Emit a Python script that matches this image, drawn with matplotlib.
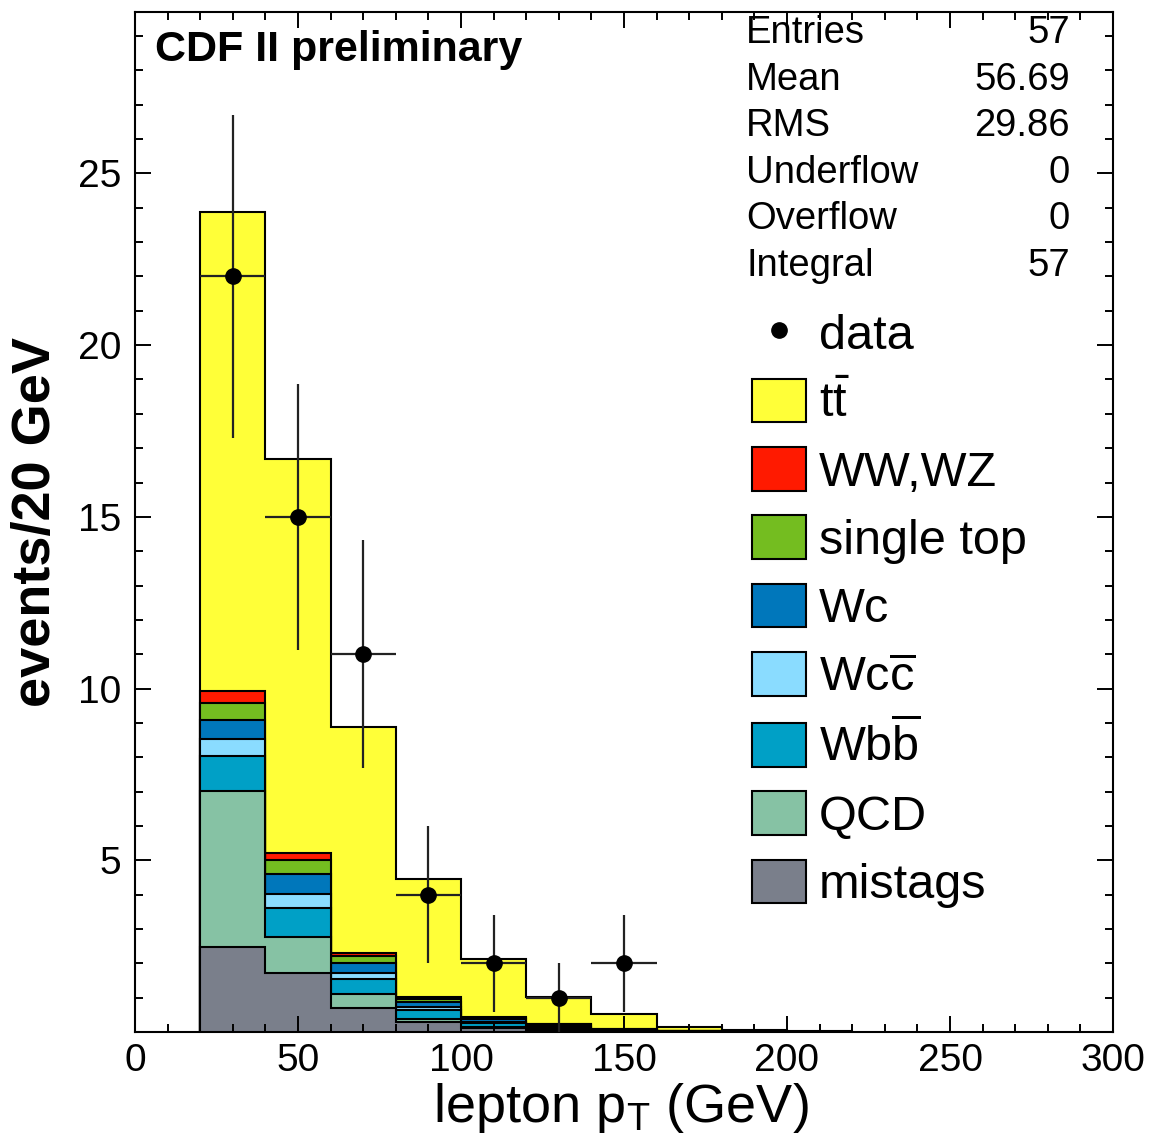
import matplotlib

matplotlib.use("Agg")
import matplotlib.pyplot as plt
import numpy as np
from matplotlib.lines import Line2D
from matplotlib.patches import Patch
from matplotlib.ticker import MultipleLocator

plt.rcParams["font.family"] = ["Liberation Sans", "DejaVu Sans"]
plt.rcParams["mathtext.fontset"] = "custom"
plt.rcParams["mathtext.rm"] = "Liberation Sans"
plt.rcParams["mathtext.it"] = "Liberation Sans:italic"
plt.rcParams["mathtext.bf"] = "Liberation Sans:bold"

# bin edges (GeV), 20 GeV bins
edges = [20, 40, 60, 80, 100, 120, 140, 160, 180, 200, 220]

# backgrounds, bottom of the stack first
mistags = [2.47, 1.71, 0.69, 0.30, 0.12, 0.05, 0.02, 0.01, 0.0, 0.0]
qcd = [4.56, 1.07, 0.42, 0.08, 0.04, 0.02, 0.01, 0.0, 0.0, 0.0]
wbb = [1.00, 0.84, 0.43, 0.26, 0.10, 0.06, 0.02, 0.01, 0.0, 0.0]
wcc = [0.49, 0.41, 0.19, 0.10, 0.04, 0.02, 0.01, 0.0, 0.0, 0.0]
wc = [0.56, 0.56, 0.27, 0.14, 0.07, 0.04, 0.01, 0.0, 0.0, 0.0]
single_top = [0.51, 0.41, 0.20, 0.07, 0.05, 0.03, 0.01, 0.0, 0.0, 0.0]
ww_wz = [0.33, 0.21, 0.09, 0.08, 0.03, 0.01, 0.01, 0.0, 0.0, 0.0]
ttbar = [13.96, 11.47, 6.60, 3.43, 1.67, 0.80, 0.43, 0.13, 0.06, 0.02]

data_x = [30, 50, 70, 90, 110, 130, 150]
data_y = [22, 15, 11, 4, 2, 1, 2]

stat_names = ["Entries", "Mean", "RMS", "Underflow", "Overflow", "Integral"]
stat_values = ["57", "56.69", "29.86", "0", "0", "57"]

stack = [
    ("mistags", mistags, "#7a7f8b"),
    ("QCD", qcd, "#86c2a4"),
    (r"Wb$\overline{\rm b}$", wbb, "#00a0c6"),
    (r"Wc$\overline{\rm c}$", wcc, "#8adcff"),
    ("Wc", wc, "#0077bb"),
    ("single top", single_top, "#74bd20"),
    ("WW,WZ", ww_wz, "#ff1a00"),
    (r"t$\bar{\rm t}$", ttbar, "#ffff38"),
]

fig = plt.figure(figsize=(11.52, 11.43), dpi=100)
ax = fig.add_axes([135 / 1152, 1 - 1032 / 1143, (1113 - 135) / 1152, (1032 - 12) / 1143])

cum = np.cumsum([np.array(v) for _, v, _ in stack], axis=0)
for i in range(len(stack) - 1, -1, -1):
    ax.stairs(cum[i], edges, baseline=0, fill=True, facecolor=stack[i][2],
              edgecolor="black", linewidth=1.5)

yerr = np.sqrt(data_y)
ax.errorbar(data_x, data_y, xerr=10, yerr=yerr, fmt="o", color="black",
            ecolor="#222222", elinewidth=1.6, markersize=11, capsize=0, zorder=5)

ax.set_xlim(0, 300)
ax.set_ylim(0, 29.7)
ax.set_xticks([0, 50, 100, 150, 200, 250, 300])
ax.set_yticks([5, 10, 15, 20, 25])
ax.xaxis.set_minor_locator(MultipleLocator(10))
ax.yaxis.set_minor_locator(MultipleLocator(1))
ax.tick_params(which="both", direction="in", top=True, right=True, width=1.4)
ax.tick_params(which="major", length=11.5, labelsize=28, pad=8)
ax.tick_params(axis="y", which="major", pad=10)
ax.tick_params(which="minor", length=5.8)
for s in ax.spines.values():
    s.set_linewidth(1.5)

ax.set_xlabel(r"lepton p$_{\rm T}$ (GeV)", fontsize=39)
ax.xaxis.set_label_coords(0.497, -0.048)
ax.set_ylabel("events/20 GeV", fontsize=39, fontweight="bold")
ax.yaxis.set_label_coords(-0.076, 0.5)

ax.text(0.02, 0.963, "CDF II preliminary", transform=ax.transAxes, fontsize=31,
        fontweight="bold", va="center", ha="left")

for i, (name, val) in enumerate(zip(stat_names, stat_values)):
    y = 1 - (33 + 46.6 * i) / 1143
    fig.text(746 / 1152, y, name, fontsize=27.5, va="center", ha="left")
    fig.text(1070 / 1152, y, val, fontsize=27.5, va="center", ha="right")

handles = [Line2D([], [], marker="o", color="black", linestyle="none", markersize=11)]
labels = ["data"]
for name, _, c in reversed(stack):
    handles.append(Patch(facecolor=c, edgecolor="black", linewidth=1.5))
    labels.append(name)
fig.legend(handles, labels, loc="upper left", bbox_to_anchor=(733 / 1152, 1 - 291 / 1143),
           frameon=False, fontsize=35, handlelength=1.11, handleheight=1.0,
           handletextpad=0.25, labelspacing=0.41, borderaxespad=0)

fig.savefig("out.png", dpi=100)
